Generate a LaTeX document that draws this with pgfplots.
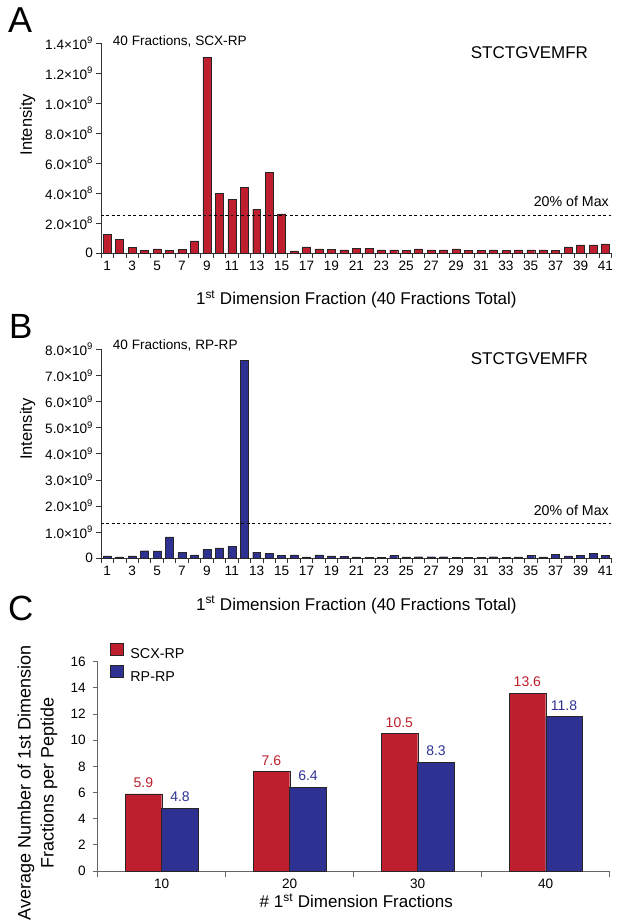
\documentclass[border=0pt]{standalone}
\usepackage{fontspec}
\setmainfont{Liberation Sans}
\usepackage{pgfplots}
\pgfplotsset{compat=1.18}
\definecolor{myred}{RGB}{190,30,45}
\definecolor{myblue}{RGB}{46,49,146}
\newcommand{\fs}[1]{\fontsize{#1}{#1}\selectfont}

\pgfplotsset{
  common/.style={
    scale only axis,
    axis lines*=left,
    axis line style={black!80, line width=0.9pt},
    tick align=outside,
    major tick length=4.5pt,
    minor tick length=4.5pt,
    tick style={black!80, line width=0.8pt},
    major x tick style={draw=none},
    tick label style={font=\fs{13.6}},
    /pgf/number format/assume math mode=true,
    clip=false,
  },
  frac/.style={
    common,
    anchor=south west,
    width=510.7pt,
    xmin=0.5, xmax=41.5, ymin=0,
    xtick={1,3,...,41},
    minor xtick={0.5,1.5,...,41.5},
    xlabel={1\textsuperscript{st} Dimension Fraction (40 Fractions Total)},
    xlabel style={font=\fs{17}, anchor=base},
    ylabel={Intensity},
    ylabel style={font=\fs{16.5}, anchor=center, rotate=0},
  },
}

\begin{document}
\begin{tikzpicture}[x=1pt,y=1pt]
\path[use as bounding box] (0,0) rectangle (622,920);

% Panel letters
\node[anchor=base west, inner sep=0pt, font=\fs{36}] at (8,887.5) {A};
\node[anchor=base west, inner sep=0pt, font=\fs{35}] at (9,581.7) {B};
\node[anchor=base west, inner sep=0pt, font=\fs{35}] at (8,299) {C};

% ---------- Panel A ----------
\begin{axis}[frac, at={(101pt,666.7pt)}, height=210pt,
  ymax=14,
  ytick={0,2,4,6,8,10,12,14},
  yticklabels={0,2.0×10\textsuperscript{8},4.0×10\textsuperscript{8},6.0×10\textsuperscript{8},8.0×10\textsuperscript{8},1.0×10\textsuperscript{9},1.2×10\textsuperscript{9},1.4×10\textsuperscript{9}},
  xlabel style={at={(axis description cs:0.5,-0.2462)}},
  ylabel style={at={(axis description cs:-0.1439,0.612)}},
]
\addplot[ybar, bar width=0.64, fill=myred, draw=black!85, line width=0.4pt] coordinates {
(1,1.27) (2,0.91) (3,0.38) (4,0.20) (5,0.29) (6,0.20) (7,0.24) (8,0.82)
(9,13.07) (10,4.00) (11,3.60) (12,4.38) (13,2.93) (14,5.38) (15,2.62)
(16,0.16) (17,0.42) (18,0.29) (19,0.27) (20,0.22) (21,0.31) (22,0.33)
(23,0.22) (24,0.22) (25,0.18) (26,0.29) (27,0.22) (28,0.22) (29,0.29)
(30,0.18) (31,0.18) (32,0.22) (33,0.18) (34,0.22) (35,0.22) (36,0.22)
(37,0.18) (38,0.42) (39,0.56) (40,0.56) (41,0.62)};
\addplot[sharp plot, black, line width=1.1pt, dash pattern=on 2.8pt off 2.6pt, forget plot] coordinates {(0.5,2.53) (41.5,2.53)};
\end{axis}
\node[anchor=base west, inner sep=0pt, font=\fs{13.6}] at (112.7,874.3) {40 Fractions, SCX-RP};
\node[anchor=base west, inner sep=0pt, font=\fs{17}] at (470.7,861) {STCTGVEMFR};
\node[anchor=base east, inner sep=0pt, font=\fs{14.2}] at (609,713.3) {20\% of Max};

% ---------- Panel B ----------
\begin{axis}[frac, at={(101pt,361.7pt)}, height=209pt,
  ymax=8,
  ytick={0,1,2,3,4,5,6,7,8},
  yticklabels={0,1.0×10\textsuperscript{9},2.0×10\textsuperscript{9},3.0×10\textsuperscript{9},4.0×10\textsuperscript{9},5.0×10\textsuperscript{9},6.0×10\textsuperscript{9},7.0×10\textsuperscript{9},8.0×10\textsuperscript{9}},
  xlabel style={at={(axis description cs:0.5,-0.2474)}},
  ylabel style={at={(axis description cs:-0.1439,0.618)}},
]
\addplot[ybar, bar width=0.64, fill=myblue, draw=black!85, line width=0.4pt] coordinates {
(1,0.09) (2,0.05) (3,0.09) (4,0.29) (5,0.28) (6,0.82) (7,0.22) (8,0.13)
(9,0.33) (10,0.40) (11,0.45) (12,7.59) (13,0.24) (14,0.18) (15,0.11)
(16,0.13) (17,0.05) (18,0.13) (19,0.09) (20,0.08) (21,0.05) (22,0.04)
(23,0.04) (24,0.10) (25,0.05) (26,0.06) (27,0.06) (28,0.06) (29,0.04)
(30,0.04) (31,0.04) (32,0.06) (33,0.04) (34,0.05) (35,0.10) (36,0.05)
(37,0.14) (38,0.09) (39,0.10) (40,0.18) (41,0.11)};
\addplot[sharp plot, black, line width=1.1pt, dash pattern=on 2.8pt off 2.6pt, forget plot] coordinates {(0.5,1.32) (41.5,1.32)};
\end{axis}
\node[anchor=base west, inner sep=0pt, font=\fs{13.6}] at (112.7,570) {40 Fractions, RP-RP};
\node[anchor=base west, inner sep=0pt, font=\fs{17}] at (470.7,555) {STCTGVEMFR};
\node[anchor=base east, inner sep=0pt, font=\fs{14.2}] at (609,404) {20\% of Max};

% ---------- Panel C ----------
\begin{axis}[common, anchor=south west, at={(97.7pt,49pt)},
  width=512pt, height=209.3pt,
  xmin=-0.5, xmax=3.5, ymin=0, ymax=16,
  ytick={0,2,...,16},
  xtick={0,1,2,3}, xticklabels={10,20,30,40},
  minor xtick={-0.5,0.5,1.5,2.5,3.5},
  minor tick length=5.5pt,
  axis line style={black!60, line width=0.9pt},
  tick style={black!60, line width=0.8pt},
  yticklabel style={xshift=-4pt},
  xlabel={\# 1\textsuperscript{st} Dimension Fractions},
  xlabel style={font=\fs{17}, anchor=base, at={(axis description cs:0.505,-0.1753)}},
  ylabel={Average Number of 1st Dimension\\[3pt]Fractions per Peptide},
  ylabel style={font=\fontsize{18}{20}\selectfont, align=center, anchor=center, at={(axis description cs:-0.1176,0.42)}},
  legend style={at={(axis description cs:0.0246,1.0908)}, anchor=north west, draw=none, fill=none,
    inner sep=0pt, font=\fs{14.3}, row sep=5pt, column sep=7pt, nodes={inner sep=0pt}, legend cell align=left},
  sq/.style={legend image code/.code={\draw[##1, draw=black!85, line width=0.4pt] (0pt,-0.5pt) rectangle (12.5pt,11.5pt);}},
  nodes near coords={\pgfmathprintnumber[fixed,fixed zerofill,precision=1]{\pgfplotspointmeta}},
]
\addplot[ybar, bar width=0.2867, fill=myred, draw=black!85, line width=0.4pt, sq,
  nodes near coords style={myred, font=\fs{14}, inner sep=0pt, anchor=base, yshift=6.5pt}] coordinates {
(-0.1433,5.9) (0.8567,7.6) (1.8567,10.5) (2.8567,13.6)};
\addplot[ybar, bar width=0.2867, fill=myblue, draw=black!85, line width=0.4pt, sq,
  nodes near coords style={myblue, font=\fs{14}, inner sep=0pt, anchor=base, yshift=6.5pt}] coordinates {
(0.1433,4.8) (1.1433,6.4) (2.1433,8.3) (3.1433,11.8)};
\legend{SCX-RP, RP-RP}
\end{axis}
\end{tikzpicture}
\end{document}
